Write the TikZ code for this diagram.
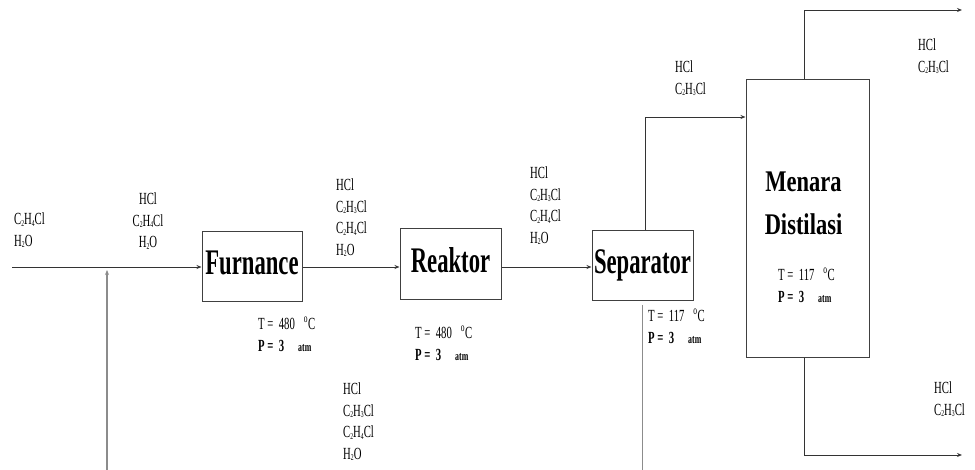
\documentclass[tikz,border=0pt]{standalone}
\usepackage{fontspec}
\setmainfont{Liberation Serif}
\newfontfamily\cnd[FakeStretch=0.63]{Liberation Serif}
\newfontfamily\mnd[FakeStretch=0.75]{Liberation Serif}
\usetikzlibrary{arrows.meta}
\newcommand{\sbs}[1]{\raisebox{-1.5pt}{\fontsize{9}{9}\selectfont #1}}
\newcommand{\chA}{C\sbs{2}H\sbs{4}Cl}
\newcommand{\chB}{C\sbs{2}H\sbs{3}Cl}
\newcommand{\chW}{H\sbs{2}O}
\newcommand{\TP}[1]{T = \ #1\hspace{9pt}\textsuperscript{o}C\\ \textbf{P = \ 3\hspace{14pt}{\fontsize{12.5}{12.5}\selectfont atm}}}
\begin{document}
\begin{tikzpicture}[x=1pt,y=-1pt,
  unitbox/.style={draw=black!75, line width=1pt, inner sep=0,
    font=\cnd\bfseries\fontsize{36}{40}\selectfont, text height=25pt, text depth=9pt},
  flow/.style={draw=black!80, line width=0.9pt, -{Stealth[open,length=5pt,width=4pt]}},
  gline/.style={draw=black!45, line width=1.3pt},
  lbl/.style={font=\cnd\fontsize{17}{21.5}\selectfont, align=left, inner sep=0, anchor=north west},
  tp/.style={font=\cnd\fontsize{17}{22}\selectfont, align=left, inner sep=0, anchor=north west}]
\useasboundingbox (0,0) rectangle (975,470);
% units
\node[unitbox, minimum width=100pt, minimum height=70pt] (furn) at (252,267) {Furnance};
\node[unitbox, minimum width=101pt, minimum height=71pt] (reak) at (450.5,264.5) {Reaktor};
\node[unitbox, minimum width=101pt, minimum height=70pt] (sep) at (642.5,265.5) {Separator};
\node[draw=black!75, line width=1pt, inner sep=0, minimum width=123pt, minimum height=278pt] (men) at (807.5,219) {};
\node[font=\mnd\bfseries\fontsize{30}{43}\selectfont, align=center, inner sep=0] (menlbl) at (803.5,203.5) {Menara\\Distilasi};
% coordinates
\coordinate (feed) at (12,267);
\coordinate (rec) at (107,470);
\coordinate (sepbot) at (642.5,470);
\coordinate (topend) at (962,10);
\coordinate (botend) at (962,455);
\coordinate (vapy) at (0,117);
% connectors
\draw[flow] (feed) -- (furn.west |- feed);
\draw[gline, -{Stealth[length=5pt,width=4pt]}, shorten >=3pt] (rec) -- (rec |- feed);
\draw[flow] (furn.east |- feed) -- (reak.west |- feed);
\draw[flow] (reak.east |- feed) -- (sep.west |- feed);
\draw[flow] ([xshift=2.5pt]sep.north) |- (men.west |- vapy);
\draw[gline] ([yshift=-4pt]sep.south) -- (sepbot);
\draw[flow] ([xshift=-3.5pt]men.north) |- (topend);
\draw[flow] ([xshift=-3.5pt]men.south) |- (botend);
% stream labels
\node[lbl] (s1) at (14,213) {\chA\\\chW};
\node[lbl, align=center, anchor=north] (s2) at (148,193) {HCl\\\chA\\\chW};
\node[lbl] (s3) at (336,179) {HCl\\\chB\\\chA\\\chW};
\node[lbl] (s4) at (530,167) {HCl\\\chB\\\chA\\\chW};
\node[lbl] (s5) at (343,383) {HCl\\\chB\\\chA\\\chW};
\node[lbl] (s6) at (675,61) {HCl\\\chB};
\node[lbl] (s7) at (918,39) {HCl\\\chB};
\node[lbl] (s8) at (934,382) {HCl\\\chB};
% conditions
\node[tp] (c1) at (258,317) {\TP{480}};
\node[tp] (c2) at (415,326) {\TP{480}};
\node[tp] (c3) at (648,309) {\TP{117}};
\node[tp] (c4) at (778,268) {\TP{117}};
\end{tikzpicture}
\end{document}
